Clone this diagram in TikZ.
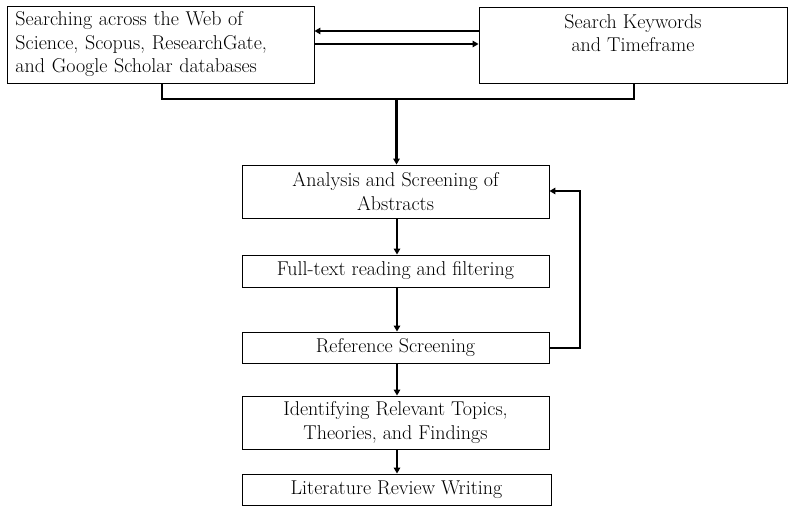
\documentclass[tikz,border=0pt]{standalone}
\usetikzlibrary{arrows.meta,positioning}
\begin{document}
\begin{tikzpicture}[x=1pt,y=-1pt,
  box/.style={draw=black,line width=0.9pt,rectangle,inner sep=0pt,font=\fontsize{20}{23.5}\selectfont,align=center},
  conn/.style={line width=2.5pt,-{Triangle[length=6pt,width=6.5pt]}},
  plain/.style={line width=2.5pt}]
\useasboundingbox (0,0) rectangle (794,513);
\node[box,minimum width=307pt,minimum height=77pt,text width=290pt,align=left] (A) at (160.5,44.5)
  {Searching across the Web of\\Science, Scopus, ResearchGate,\\and Google Scholar databases};
\node[box,minimum width=308pt,minimum height=76pt] (B) at (633,45)
  {Search Keywords\\and Timeframe\\~};
\node[box,minimum width=307pt,minimum height=53pt] (C) at (395.5,191.5)
  {Analysis and Screening of\\Abstracts};
\node[box,minimum width=307pt,minimum height=32pt] (D) at (395.5,271)
  {Full-text reading and filtering};
\node[box,minimum width=307pt,minimum height=31pt] (E) at (395.5,347.5)
  {Reference Screening};
\node[box,minimum width=307pt,minimum height=53pt] (F) at (395.5,422.5)
  {Identifying Relevant Topics,\\Theories, and Findings};
\node[box,minimum width=309pt,minimum height=31pt] (G) at (396.5,489.5)
  {Literature Review Writing};
% arrows between A and B
\draw[conn] (B.west |- 0,31) -- (A.east |- 0,31);
\draw[conn] (A.east |- 0,44) -- (B.west |- 0,44);
% join
\coordinate (jA) at (162,99);
\coordinate (jB) at (634,99);
\coordinate (jM) at (396.5,99);
\draw[plain] (A.south -| jA) -- (jA) -- (jB) -- (B.south -| jB);
\draw[conn] (jM) -- (C.north -| jM);
% chain
\draw[conn] (C.south -| 397,0) -- (D.north -| 397,0);
\draw[conn] (D.south -| 397,0) -- (E.north -| 397,0);
\draw[conn] (E.south -| 397,0) -- (F.north -| 397,0);
\draw[conn] (F.south -| 397,0) -- (G.north -| 397,0);
% feedback
\coordinate (fb1) at (580,348);
\coordinate (fb2) at (580,191);
\draw[conn] (E.east |- fb1) -- (fb1) -- (fb2) -- (C.east |- fb2);
\end{tikzpicture}
\end{document}
